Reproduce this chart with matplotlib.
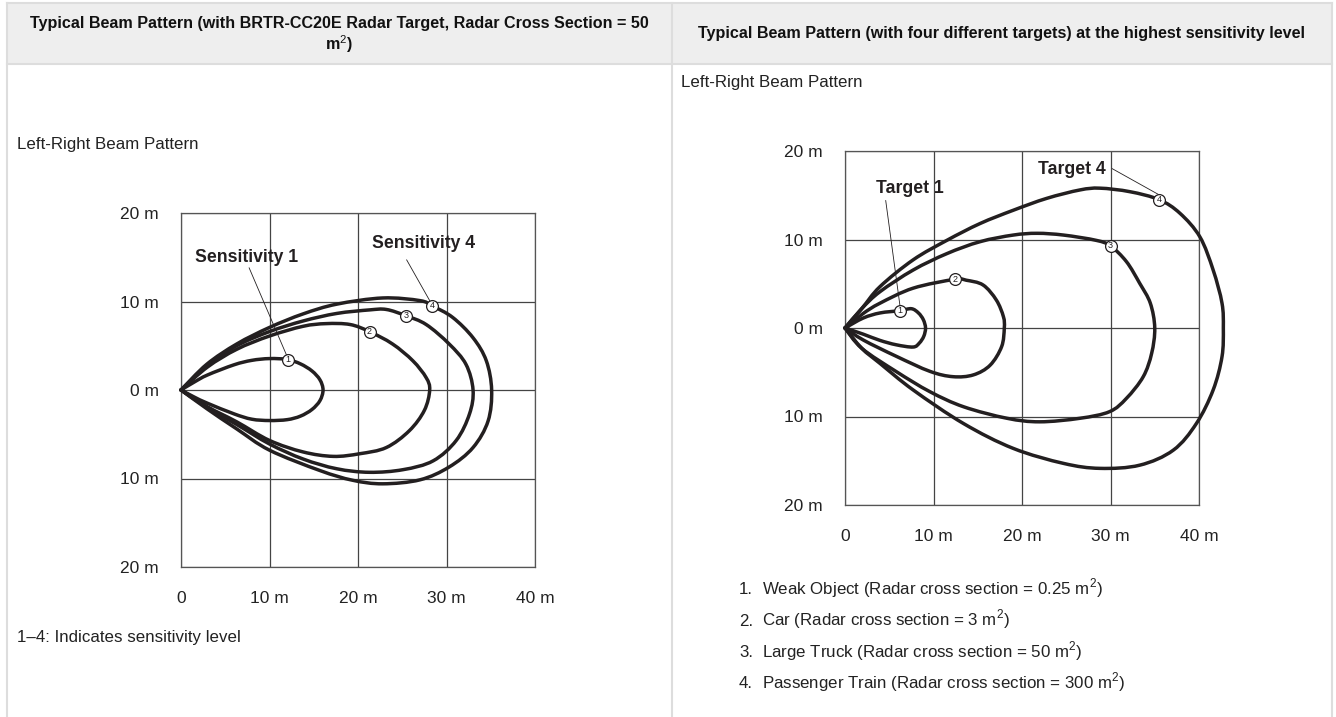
# Beam pattern charts for a radar sensor (two panels laid out like a table)
import matplotlib
matplotlib.use("Agg")
import matplotlib.pyplot as plt
from matplotlib.path import Path
from matplotlib.patches import PathPatch

plt.rcParams['font.family'] = ['Liberation Sans', 'DejaVu Sans']
plt.rcParams['mathtext.fontset'] = 'custom'
plt.rcParams['mathtext.rm'] = 'Liberation Sans'

# ---- data (metres) ----
# left panel: sensitivity levels 1..4
sens1_x = [0, 1.5, 3, 6, 8, 10, 12, 13.5, 14.8, 15.7, 16.05, 15.7, 14.8, 13.5, 12, 10, 8, 6, 3, 1.5, 0]
sens1_y = [0, 0.9, 1.7, 2.85, 3.35, 3.55, 3.45, 2.95, 2.15, 1.15, 0, -1.2, -2.2, -2.95, -3.35, -3.45, -3.3, -2.7, -1.5, -0.8, 0]

sens2_x = [0, 3, 6.3, 10, 13.8, 16.4, 19.1, 21.3, 23.9, 26.2, 27.7, 28.1, 27.5, 25.8, 23.2, 20.2, 17.2, 13.8, 10, 6.3, 3, 0]
sens2_y = [0, 2.6, 4.6, 6.1, 7.2, 7.5, 7.4, 6.6, 5.2, 3.3, 1.4, 0, -2.3, -4.6, -6.5, -7.2, -7.5, -7.0, -5.7, -3.6, -1.9, 0]

sens3_x = [0, 3, 6.3, 10, 13.8, 17.6, 21.3, 23.2, 25.4, 27.7, 30.3, 32.2, 33.0, 32.6, 31.1, 28.5, 25.1, 21.3, 17.6, 13.8, 10, 6.3, 3, 0]
sens3_y = [0, 2.8, 5.0, 6.6, 7.8, 8.65, 9.05, 9.1, 8.4, 7.4, 5.2, 2.9, 0, -2.7, -5.7, -8.0, -9.0, -9.3, -8.9, -7.8, -6.1, -3.9, -2.0, 0]

sens4_x = [0, 2.9, 6.3, 10, 13.8, 17.6, 22.8, 27, 28.4, 30.7, 33, 34.5, 35.1, 34.7, 33, 30.3, 27, 22.8, 19.4, 15.7, 10, 6.3, 2.9, 0]
sens4_y = [0, 2.9, 5.2, 7.07, 8.6, 9.7, 10.4, 10.1, 9.5, 8.2, 5.9, 3.3, 0, -3.5, -6.5, -8.7, -10.15, -10.6, -10.2, -9.1, -6.8, -4.4, -2.1, 0]

sens_marks_x = [12.1, 21.3, 25.4, 28.4]
sens_marks_y = [3.4, 6.6, 8.4, 9.5]

# right panel: four targets at highest sensitivity
tgt1_x = [0, 2.07, 3.95, 6.2, 7.5, 8.3, 8.85, 9.1, 8.9, 8.4, 7.7, 5.8, 3.95, 2.07, 0]
tgt1_y = [0, 1.13, 1.7, 1.96, 2.18, 1.7, 0.94, 0, -0.94, -1.7, -2.15, -1.9, -1.4, -0.7, 0]

tgt2_x = [0, 2.0, 3.95, 7.7, 12.4, 13.7, 15.6, 17.1, 17.9, 18.0, 17.7, 16.4, 14.5, 12.2, 9.6, 5.8, 2.07, 0]
tgt2_y = [0, 1.6, 2.8, 4.5, 5.5, 5.4, 4.86, 3.16, 1.28, 0, -2.1, -4.2, -5.3, -5.5, -4.9, -3.2, -1.36, 0]

tgt3_x = [0, 1.9, 3.95, 7.7, 11.5, 15.25, 19, 21.7, 24.7, 28.4, 30.0, 31.8, 33.3, 34.5, 35.0, 34.65, 33.7, 31.8, 29.9,
          26.55, 22, 18.3, 13.4, 9.6, 5.8, 1.9, 0]
tgt3_y = [0, 2.2, 4.1, 6.55, 8.4, 9.75, 10.5, 10.7, 10.5, 9.9, 9.27, 7.5, 5.05, 2.8, 0, -2.86, -5.5, -7.95, -9.45,
          -10.2, -10.6, -10.2, -8.9, -7.2, -4.93, -2.3, 0]

tgt4_x = [0, 1.9, 3.95, 7.7, 11.5, 15.25, 19, 22.8, 26.55, 28.8, 32.2, 35.5, 37.85, 40.1, 41.6, 42.6, 42.75, 42.6,
          41.6, 39.7, 37.1, 33.3, 28.8, 24.7, 19, 13.4, 7.7, 3.95, 1.9, 0]
tgt4_y = [0, 2.2, 4.67, 7.7, 9.9, 11.8, 13.3, 14.65, 15.6, 15.8, 15.4, 14.5, 12.96, 10.3, 6.55, 2.8, 0, -3.24,
          -7.0, -10.8, -13.8, -15.5, -15.86, -15.3, -13.6, -10.8, -7.0, -4.0, -2.3, 0]

tgt_marks_x = [6.2, 12.4, 30.0, 35.5]
tgt_marks_y = [1.96, 5.5, 9.27, 14.5]

mark_labels = ['1', '2', '3', '4']
x_ticks = [0, 10, 20, 30, 40]
x_tick_labels = ['0', '10 m', '20 m', '30 m', '40 m']
y_ticks = [20, 10, 0, -10, -20]
y_tick_labels = ['20 m', '10 m', '0 m', '10 m', '20 m']

header_left = ['Typical Beam Pattern (with BRTR-CC20E Radar Target, Radar Cross Section = 50',
               'm$^{\\mathrm{2}}$)']
header_right = 'Typical Beam Pattern (with four different targets) at the highest sensitivity level'
target_notes = ['Weak Object (Radar cross section = 0.25 m$^{\\mathrm{2}}$)',
                'Car (Radar cross section = 3 m$^{\\mathrm{2}}$)',
                'Large Truck (Radar cross section = 50 m$^{\\mathrm{2}}$)',
                'Passenger Train (Radar cross section = 300 m$^{\\mathrm{2}}$)']

W, H = 1336, 717
ink = '#231f20'
txt = '#222222'
border = '#dddddd'

fig = plt.figure(figsize=(W / 100, H / 100), dpi=100)

# page / table background in pixel coordinates
bg = fig.add_axes([0, 0, 1, 1])
bg.set_xlim(0, W)
bg.set_ylim(H, 0)
bg.axis('off')
bg.add_patch(plt.Rectangle((7, 3), 1325, 61, facecolor='#eeeeee', edgecolor='none'))
for yy in [3, 64]:
    bg.plot([7, 1332], [yy, yy], color=border, lw=1.5)
for xx in [7, 672, 1332]:
    bg.plot([xx, xx], [3, H], color=border, lw=1.5)

hd = dict(ha='center', va='baseline', fontsize=11.6, fontweight='bold', color='#111111')
bg.text(339, 28, header_left[0], **hd)
bg.text(339, 50, header_left[1], **hd)
bg.text(1002, 38, header_right, **hd)

body = dict(ha='left', va='baseline', fontsize=12.2, color=txt)
bg.text(17, 149, 'Left-Right Beam Pattern', **body)
bg.text(681, 87, 'Left-Right Beam Pattern', **body)
bg.text(17, 642, '1\u20134: Indicates sensitivity level', **body)
for i, note in enumerate(target_notes):
    y = 594 + i * 31.5
    bg.text(739, y, f'{i + 1}.', **body)
    bg.text(762, y, note, **body)


def beam_axes(left_px, bottom_px):
    ax = fig.add_axes([left_px / W, (H - bottom_px) / H, 354 / W, 354 / H])
    ax.set_xlim(0, 40)
    ax.set_ylim(-20, 20)
    ax.set_xticks(x_ticks)
    ax.set_xticklabels(x_tick_labels)
    ax.set_yticks(y_ticks)
    ax.set_yticklabels(y_tick_labels)
    ax.tick_params(length=0, labelsize=12.5, colors='#222222')
    ax.tick_params(axis='x', pad=17)
    ax.tick_params(axis='y', pad=16)
    ax.grid(True, color='#444444', lw=0.9)
    for s in ax.spines.values():
        s.set_color('#555555')
        s.set_linewidth(0.9)
    ax.set_facecolor('none')
    return ax


def smooth_curve(ax, xs, ys):
    # draw a smooth bezier path through the read points (Catmull-Rom style tangents)
    pts = list(zip(xs, ys))
    n = len(pts)
    verts = [pts[0]]
    codes = [Path.MOVETO]
    for i in range(n - 1):
        p0 = pts[i - 1] if i > 0 else pts[i]
        p1 = pts[i]
        p2 = pts[i + 1]
        p3 = pts[i + 2] if i + 2 < n else pts[i + 1]
        c1 = (p1[0] + (p2[0] - p0[0]) / 6, p1[1] + (p2[1] - p0[1]) / 6)
        c2 = (p2[0] - (p3[0] - p1[0]) / 6, p2[1] - (p3[1] - p1[1]) / 6)
        verts += [c1, c2, p2]
        codes += [Path.CURVE4] * 3
    patch = PathPatch(Path(verts, codes), facecolor='none', edgecolor=ink, lw=2.5,
                      joinstyle='round', capstyle='round', zorder=3, clip_on=False)
    ax.add_patch(patch)


def draw_marks(ax, xs, ys):
    for x, y, lab in zip(xs, ys, mark_labels):
        ax.plot(x, y, 'o', ms=8.5, mfc='white', mec=ink, mew=0.9, zorder=5, clip_on=False)
        ax.text(x, y, lab, ha='center', va='center', fontsize=6.5, color=ink, zorder=6)


# left panel
axl = beam_axes(181, 567)
for xs, ys in [(sens1_x, sens1_y), (sens2_x, sens2_y), (sens3_x, sens3_y), (sens4_x, sens4_y)]:
    smooth_curve(axl, xs, ys)
axl.plot([7.7, 11.9], [13.8, 4.0], color=ink, lw=0.6, zorder=4)
axl.plot([25.5, 28.1], [14.7, 10.1], color=ink, lw=0.6, zorder=4)
draw_marks(axl, sens_marks_x, sens_marks_y)
axl.text(7.4, 15.0, 'Sensitivity 1', ha='center', va='center', fontsize=12.7, fontweight='bold', color=ink)
axl.text(27.4, 16.5, 'Sensitivity 4', ha='center', va='center', fontsize=12.7, fontweight='bold', color=ink)

# right panel
axr = beam_axes(845, 505)
for xs, ys in [(tgt1_x, tgt1_y), (tgt2_x, tgt2_y), (tgt3_x, tgt3_y), (tgt4_x, tgt4_y)]:
    smooth_curve(axr, xs, ys)
axr.plot([4.6, 6.2], [14.4, 2.6], color=ink, lw=0.6, zorder=4)
axr.plot([30.2, 35.4], [18.0, 15.1], color=ink, lw=0.6, zorder=4)
draw_marks(axr, tgt_marks_x, tgt_marks_y)
axr.text(7.3, 15.8, 'Target 1', ha='center', va='center', fontsize=12.7, fontweight='bold', color=ink)
axr.text(25.6, 17.9, 'Target 4', ha='center', va='center', fontsize=12.7, fontweight='bold', color=ink)

fig.savefig('out.png', dpi=100, facecolor='white')
